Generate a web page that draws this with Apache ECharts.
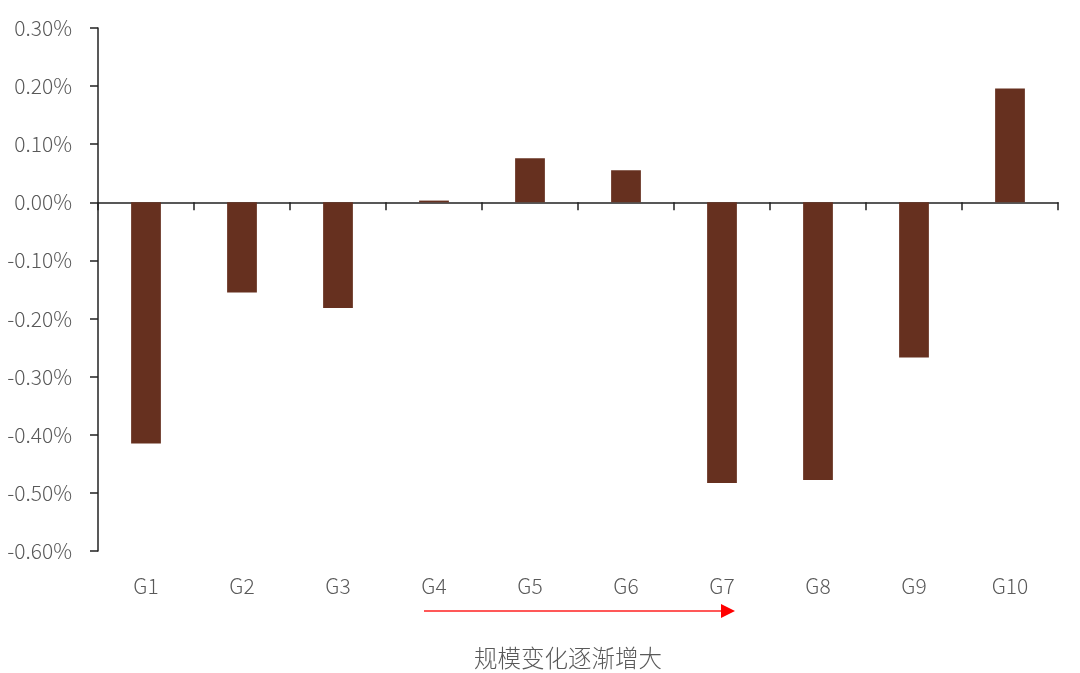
<!DOCTYPE html>
<html>
<head>
<meta charset="utf-8">
<script src="https://cdn.jsdelivr.net/npm/echarts@6/dist/echarts.min.js"></script>
<style>html,body{margin:0;padding:0;background:#fff}#c{width:1080px;height:673px}</style>
</head>
<body>
<div id="c"></div>
<script>
var categories = ['G1','G2','G3','G4','G5','G6','G7','G8','G9','G10'];
var values = [-0.415, -0.155, -0.182, 0.003, 0.076, 0.055, -0.483, -0.478, -0.267, 0.196];
var yMin = -0.6, yMax = 0.3, yStep = 0.1;
var caption = '规模变化逐渐增大';

var font = 'Noto Sans CJK SC';
var chart = echarts.init(document.getElementById('c'));
chart.setOption({
  animation: false,
  grid: {left: 98, right: 22, top: 28, bottom: 122},
  xAxis: [{
    type: 'category', data: categories,
    axisLine: {onZero: true, lineStyle: {color: '#222', width: 1.5}},
    axisTick: {show: true, length: 8, alignWithLabel: false, lineStyle: {color: '#222', width: 1.5}},
    axisLabel: {show: false}
  }, {
    type: 'category', data: categories, position: 'bottom',
    axisLine: {show: false}, axisTick: {show: false},
    axisLabel: {margin: 25, color: '#595959', fontSize: 21, fontWeight: 300, fontFamily: font}
  }],
  yAxis: {
    type: 'value', min: yMin, max: yMax, interval: yStep,
    splitLine: {show: false},
    axisLine: {show: true, lineStyle: {color: '#222', width: 1.5}},
    axisTick: {show: true, length: 8, lineStyle: {color: '#222', width: 1.5}},
    axisLabel: {margin: 26, color: '#595959', fontSize: 21, fontWeight: 300, fontFamily: font,
      formatter: function (v) { return v.toFixed(2) + '%'; }}
  },
  series: [{
    type: 'bar', data: values, barWidth: '31%',
    itemStyle: {color: '#66301f'}
  }],
  graphic: [
    {type: 'line', shape: {x1: 424, y1: 611, x2: 722, y2: 611}, style: {stroke: '#ff2020', lineWidth: 1.5}},
    {type: 'polygon', shape: {points: [[721, 604], [735, 611], [721, 618]]}, style: {fill: '#ff0000'}},
    {type: 'text', x: 568, y: 658, style: {text: caption, fill: '#595959', fontSize: 23.5, fontWeight: 300, fontFamily: font, align: 'center', verticalAlign: 'middle'}}
  ]
});
</script>
</body>
</html>
